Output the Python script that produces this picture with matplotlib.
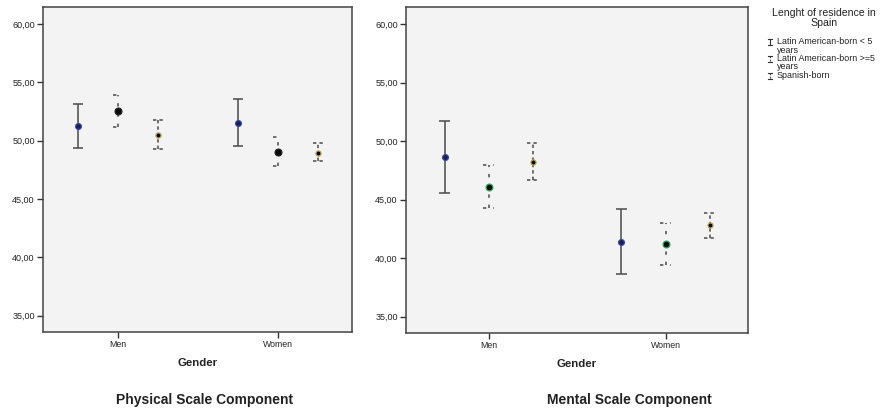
import numpy as np
import matplotlib
matplotlib.use('Agg')
from matplotlib import pyplot as plt

plt.rcParams['font.family'] = ['Liberation Sans', 'DejaVu Sans']

genders = ['Men', 'Women']
groups = ['Latin American-born < 5\nyears', 'Latin American-born >=5\nyears', 'Spanish-born']

# Physical scale component: mean, lower and upper CI per group (Men, Women)
phys_mean = [[51.22, 51.51], [52.51, 49.03], [50.51, 48.97]]
phys_low = [[49.34, 49.51], [51.14, 47.86], [49.29, 48.26]]
phys_high = [[53.14, 53.54], [53.88, 50.28], [51.77, 49.77]]

# Mental scale component
ment_mean = [[48.61, 41.41], [46.11, 41.18], [48.24, 42.81]]
ment_low = [[45.54, 38.66], [44.32, 39.45], [46.65, 41.75]]
ment_high = [[51.68, 44.17], [47.95, 42.99], [49.86, 43.89]]

y_ticks = [35, 40, 45, 50, 55, 60]

line_styles = ['solid', (0, (2.2, 4.5)), (0, (2.2, 2.0))]
face_colors = ['#1b1f4f', '#0a0a0a', '#0a0a0a']
edge_phys = ['#3848a8', '#222222', '#b8a852']
edge_ment = ['#3848a8', '#2fa858', '#b8a852']
marker_sizes = [4.2, 4.9, 3.7]
offsets = [-0.25, 0.0, 0.25]
bar_color = '#4a4a4a'
cap_half = 0.032

fig = plt.figure(figsize=(8.84, 4.11), dpi=100)


def draw_panel(ax, means, lows, highs, edges):
    ax.set_facecolor('#f2f3f2')
    x = np.arange(len(genders))
    for g in range(len(groups)):
        xs = x + offsets[g]
        ax.vlines(xs, lows[g], highs[g], colors=bar_color, linestyles=[line_styles[g]], linewidth=1.1)
        ax.hlines(lows[g], xs - cap_half, xs + cap_half, colors=bar_color, linestyles=[line_styles[g]], linewidth=1.1)
        ax.hlines(highs[g], xs - cap_half, xs + cap_half, colors=bar_color, linestyles=[line_styles[g]], linewidth=1.1)
        ax.plot(xs, means[g], 'o', markersize=marker_sizes[g], markerfacecolor=face_colors[g],
                markeredgecolor=edges[g], markeredgewidth=0.9, linestyle='none', zorder=3)
    ax.set_xlim(-0.468, 1.465)
    ax.set_ylim(33.6, 61.45)
    ax.set_xticks(x)
    ax.set_xticklabels(genders, fontsize=6.3)
    ax.set_yticks(y_ticks)
    ax.set_yticklabels(['%d,00' % v for v in y_ticks], fontsize=6.5)
    ax.tick_params(axis='both', length=4, width=1, color='#333333', pad=2, labelcolor='#222222')
    for s in ax.spines.values():
        s.set_color('#444444')
        s.set_linewidth(1.1)
    ax.set_xlabel('Gender', fontsize=8.2, fontweight='bold', color='#222222', labelpad=6)


ax1 = fig.add_axes([43 / 884, 1 - 332 / 411, 309 / 884, 325 / 411])
draw_panel(ax1, phys_mean, phys_low, phys_high, edge_phys)
ax2 = fig.add_axes([406 / 884, 1 - 333 / 411, 342 / 884, 326 / 411])
draw_panel(ax2, ment_mean, ment_low, ment_high, edge_ment)

fig.text(205 / 884, 1 - 400 / 411, 'Physical Scale Component', ha='center', va='center',
         fontsize=10, fontweight='bold', color='#222222')
fig.text(629 / 884, 1 - 400 / 411, 'Mental Scale Component', ha='center', va='center',
         fontsize=10, fontweight='bold', color='#222222')

# legend drawn in pixel coordinates
leg = fig.add_axes([0, 0, 1, 1])
leg.set_xlim(0, 884)
leg.set_ylim(411, 0)
leg.axis('off')
leg.text(824, 18, 'Lenght of residence in\nSpain', ha='center', va='center', fontsize=7.6,
         linespacing=0.95, color='#222222')
entry_y = [46, 62.5, 76]
sym_y = [42, 59, 76]
for g in range(len(groups)):
    sy = sym_y[g]
    leg.plot([770, 770], [sy - 3, sy + 3], color='#333333', linewidth=0.8,
             linestyle='solid' if g == 0 else (0, (1.5, 1.5)))
    leg.plot([768, 772], [sy - 3, sy - 3], color='#333333', linewidth=0.8)
    leg.plot([768, 772], [sy + 3, sy + 3], color='#333333', linewidth=0.8)
    leg.text(777, entry_y[g], groups[g], ha='left', va='center', fontsize=6.4,
             linespacing=0.9, color='#222222')

fig.savefig('out.png', dpi=100)
